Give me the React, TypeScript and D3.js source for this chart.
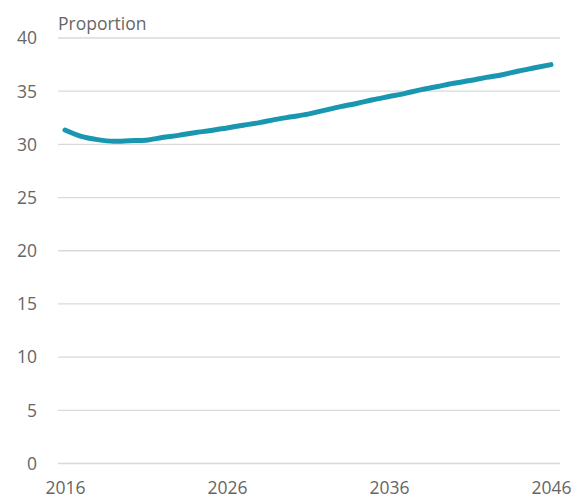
import * as React from "react";
import { useEffect, useRef } from "react";
import { select, scaleLinear, line, curveMonotoneX, axisLeft, axisBottom } from "d3";

const years: number[] = [
  2016, 2017, 2018, 2019, 2020, 2021, 2022, 2023, 2024, 2025, 2026, 2027, 2028,
  2029, 2030, 2031, 2032, 2033, 2034, 2035, 2036, 2037, 2038, 2039, 2040, 2041,
  2042, 2043, 2044, 2045, 2046,
];
const proportion: number[] = [
  31.3, 30.7, 30.4, 30.25, 30.3, 30.35, 30.6, 30.8, 31.05, 31.25, 31.5, 31.75,
  32.0, 32.3, 32.55, 32.8, 33.15, 33.5, 33.8, 34.15, 34.45, 34.75, 35.1, 35.4,
  35.7, 35.95, 36.25, 36.5, 36.85, 37.15, 37.45,
];
const yTicks: number[] = [0, 5, 10, 15, 20, 25, 30, 35, 40];
const xTicks: number[] = [2016, 2026, 2036, 2046];
const yTitle = "Proportion";

const W = 574;
const H = 501;
const FONT = "'Open Sans', 'Noto Sans', sans-serif";
const TEXT = "#666666";

function App() {
  const svgRef = useRef<SVGSVGElement>(null);

  useEffect(() => {
    const svg = select(svgRef.current);
    svg.selectAll("*").remove();

    const x = scaleLinear().domain([2016, 2046]).range([65, 551]);
    const y = scaleLinear().domain([0, 40]).range([463, 37.5]);

    // gridlines + y labels
    const yAxis: any = axisLeft(y)
      .tickValues(yTicks)
      .tickSize(-(560 - 58))
      .tickPadding(21);
    const gy = svg.append("g").attr("transform", "translate(58,0)").call(yAxis);
    gy.select(".domain").remove();
    gy.selectAll(".tick line").attr("stroke", "#d9d9d9").attr("stroke-width", 1.3);
    gy.selectAll(".tick text")
      .attr("fill", TEXT)
      .attr("font-size", 17.5)
      .attr("font-family", FONT)
      .attr("dy", "0.36em");

    // x labels
    const xAxis: any = axisBottom(x).tickValues(xTicks).tickFormat((d: any) => String(d)).tickSize(0).tickPadding(0);
    const gx = svg.append("g").attr("transform", "translate(0,481)").call(xAxis);
    gx.select(".domain").remove();
    gx.selectAll(".tick text")
      .attr("fill", TEXT)
      .attr("font-size", 17.5)
      .attr("font-family", FONT)
      .attr("dy", "0.75em");

    svg
      .append("text")
      .attr("x", 58)
      .attr("y", 30)
      .attr("fill", TEXT)
      .attr("font-size", 17.5)
      .attr("font-family", FONT)
      .text(yTitle);

    const myLine = line<number>()
      .x((d, i) => x(years[i]))
      .y((d) => y(d))
      .curve(curveMonotoneX);

    svg
      .append("path")
      .datum(proportion)
      .attr("d", myLine)
      .attr("fill", "none")
      .attr("stroke", "#1a97b0")
      .attr("stroke-width", 5)
      .attr("stroke-linecap", "round")
      .attr("stroke-linejoin", "round");
  }, []);

  return (
    <svg
      ref={svgRef}
      width={W}
      height={H}
      style={{ position: "absolute", left: 0, top: 0, background: "#fff" }}
    />
  );
}

export default App;
